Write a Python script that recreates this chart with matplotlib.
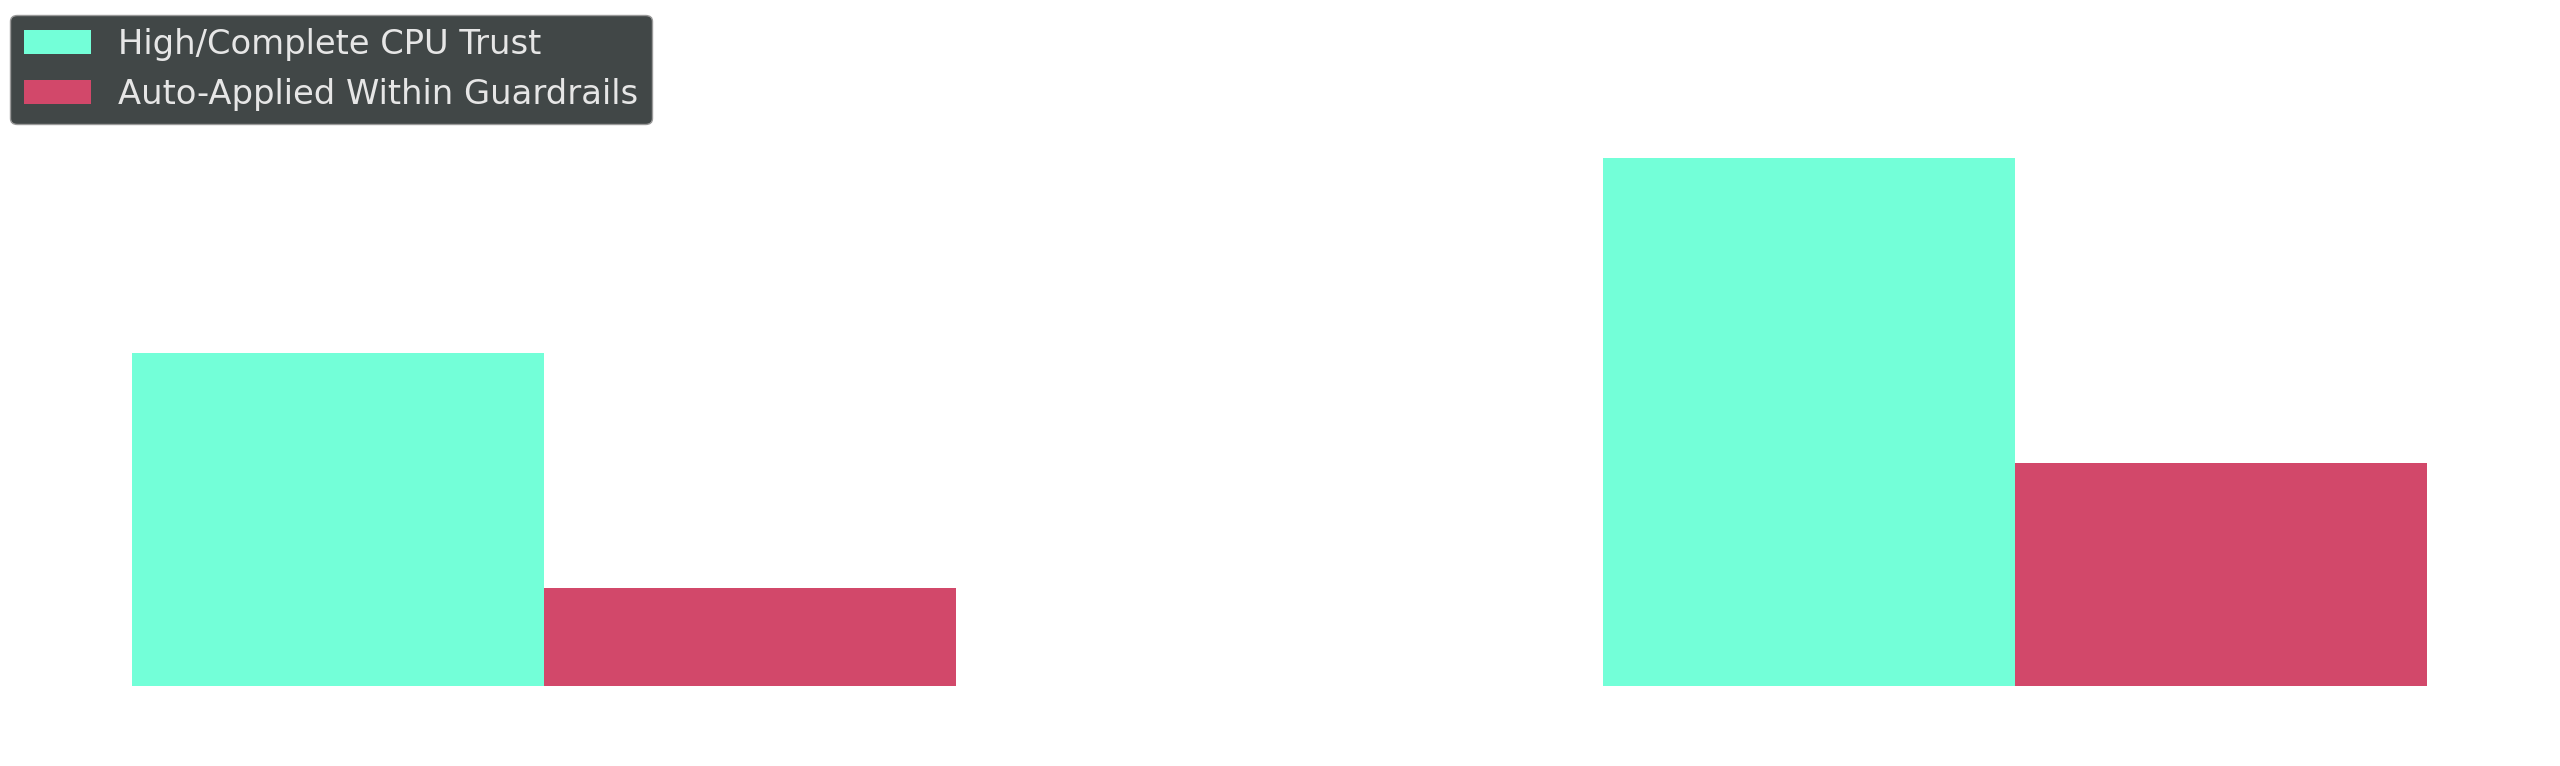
import matplotlib
matplotlib.use('Agg')
import matplotlib.pyplot as plt
import numpy as np

groups = ['Group A', 'Group B']
cpu_trust = [63.0, 100.0]
auto_applied = [18.5, 42.3]
series_labels = ['High/Complete CPU Trust', 'Auto-Applied Within Guardrails']

GREEN = '#73ffd8'
RED = '#d2486a'

fig = plt.figure(figsize=(25.6, 7.66), dpi=100)
ax = fig.add_axes([0.0068, 0.1044, 0.986, 0.724])

x = np.arange(len(groups))
w = 0.28
ax.bar(x - w / 2, cpu_trust, w, color=GREEN, label=series_labels[0])
ax.bar(x + w / 2, auto_applied, w, color=RED, label=series_labels[1])

ax.set_xlim(-0.358, 1.358)
ax.set_ylim(0, max(cpu_trust) * 1.05)
ax.axis('off')

leg = fig.legend(loc='upper left', bbox_to_anchor=(0.004, 0.981),
                 fontsize=24.3, facecolor='#414747', edgecolor='#9a9a9a',
                 framealpha=1.0, borderaxespad=0)
for t in leg.get_texts():
    t.set_color('#e6e6e6')

fig.savefig('out.png', dpi=100)
